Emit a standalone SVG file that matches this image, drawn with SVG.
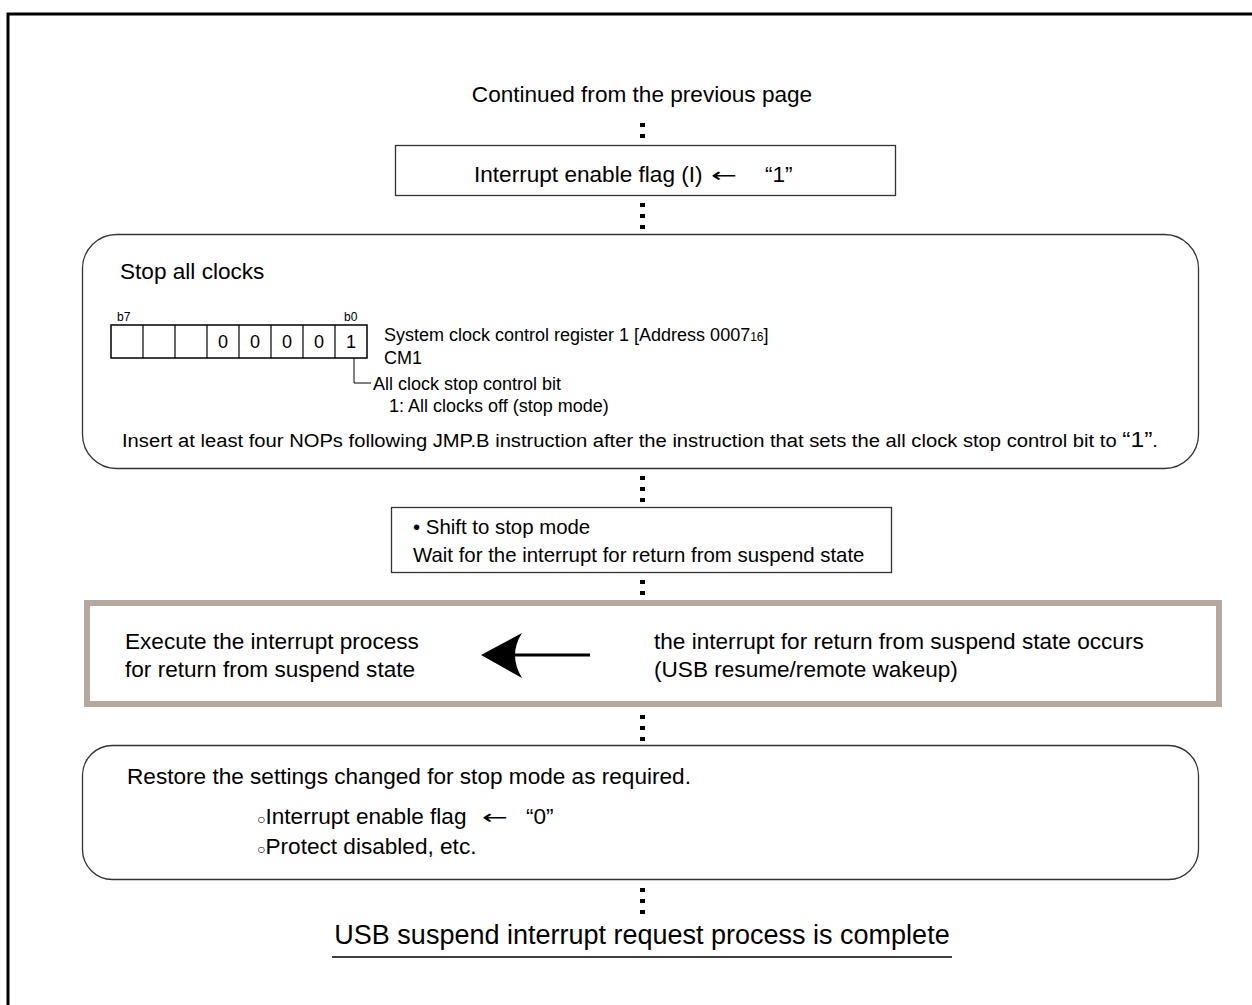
<svg xmlns="http://www.w3.org/2000/svg" width="1252" height="1005" viewBox="0 0 1252 1005">
<style>
text{font-family:"Liberation Sans",Arial,sans-serif;fill:#000}
.t{font-size:22.6px}
.r{font-size:18px}
.arr{font-family:"DejaVu Sans",sans-serif;font-size:20px}
.box{fill:#fff;stroke:#333;stroke-width:1.3}
.dots{stroke:#000;stroke-width:5;stroke-dasharray:4 7;fill:none}
.cell{fill:#fff;stroke:#000;stroke-width:1.5}
</style>
<rect width="1252" height="1005" fill="#fff"/>
<path d="M8 1005 V14 H1252" fill="none" stroke="#000" stroke-width="3"/>
<g id="connectors">
<line class="dots" x1="642.5" y1="123" x2="642.5" y2="139"/>
<line class="dots" x1="642.5" y1="203" x2="642.5" y2="231"/>
<line class="dots" x1="642.5" y1="476" x2="642.5" y2="504"/>
<line class="dots" x1="642.5" y1="580" x2="642.5" y2="600"/>
<line class="dots" x1="642.5" y1="715" x2="642.5" y2="742"/>
<line class="dots" x1="642.5" y1="888" x2="642.5" y2="914"/>
</g>
<g id="start">
<text class="t" x="642" y="102" text-anchor="middle">Continued from the previous page</text>
</g>
<g id="box-ie">
<rect class="box" x="395.5" y="145.5" width="500" height="50"/>
<text class="t" x="474" y="182">Interrupt enable flag (I)<tspan class="arr" x="711" textLength="26" lengthAdjust="spacingAndGlyphs">←</tspan><tspan x="765">“1”</tspan></text>
</g>
<g id="box-stop">
<rect class="box" x="82.5" y="234.5" width="1116" height="234" rx="34"/>
<text class="t" x="120" y="279">Stop all clocks</text>
<text x="117" y="321" font-size="12">b7</text>
<text x="344" y="321" font-size="12">b0</text>
<rect class="cell" x="111" y="325" width="256" height="33"/>
<g stroke="#000" stroke-width="1.2">
<line x1="143" y1="325" x2="143" y2="358"/>
<line x1="175" y1="325" x2="175" y2="358"/>
<line x1="207" y1="325" x2="207" y2="358"/>
<line x1="239" y1="325" x2="239" y2="358"/>
<line x1="271" y1="325" x2="271" y2="358"/>
<line x1="303" y1="325" x2="303" y2="358"/>
<line x1="335" y1="325" x2="335" y2="358"/>
</g>
<g font-size="18" text-anchor="middle">
<text x="223" y="348">0</text>
<text x="255" y="348">0</text>
<text x="287" y="348">0</text>
<text x="319" y="348">0</text>
<text x="351" y="348">1</text>
</g>
<path d="M354 358 V383 H371" fill="none" stroke="#000" stroke-width="1"/>
<text class="r" x="384" y="341">System clock control register 1 [Address 0007<tspan font-size="12">16</tspan>]</text>
<text class="r" x="384" y="364">CM1</text>
<text class="r" x="373" y="390">All clock stop control bit</text>
<text class="r" x="389" y="412">1: All clocks off (stop mode)</text>
<text x="122" y="447" font-size="18" textLength="1036" lengthAdjust="spacingAndGlyphs">Insert at least four NOPs following JMP.B instruction after the instruction that sets the all clock stop control bit to <tspan font-size="22">“1”</tspan>.</text>
</g>
<g id="box-shift">
<rect class="box" x="391.5" y="507.5" width="500" height="65"/>
<text x="413" y="534" font-size="20.4">• Shift to stop mode</text>
<text x="413" y="562" font-size="20.4">Wait for the interrupt for return from suspend state</text>
</g>
<g id="box-int">
<rect x="87" y="603" width="1132" height="101" fill="#fff" stroke="#b5a99f" stroke-width="6"/>
<text class="t" x="125" y="649">Execute the interrupt process</text>
<text class="t" x="125" y="677">for return from suspend state</text>
<text class="t" x="654" y="649">the interrupt for return from suspend state occurs</text>
<text class="t" x="654" y="677">(USB resume/remote wakeup)</text>
<line x1="590" y1="655" x2="515" y2="655" stroke="#000" stroke-width="3"/>
<path d="M481 655 L522 633 Q508 655 522 678 Z" fill="#000"/>
</g>
<g id="box-restore">
<rect class="box" x="82.5" y="745.5" width="1116" height="134" rx="30"/>
<text class="t" x="127" y="784">Restore the settings changed for stop mode as required.</text>
<text class="t" x="257" y="824"><tspan font-size="14">○</tspan>Interrupt enable flag<tspan class="arr" x="482" textLength="26" lengthAdjust="spacingAndGlyphs">←</tspan><tspan x="526">“0”</tspan></text>
<text class="t" x="257" y="854"><tspan font-size="14">○</tspan>Protect disabled, etc.</text>
</g>
<g id="end">
<text x="642" y="944" font-size="27" text-anchor="middle">USB suspend interrupt request process is complete</text>
<line x1="332" y1="957" x2="952" y2="957" stroke="#000" stroke-width="1.5"/>
</g>
</svg>
